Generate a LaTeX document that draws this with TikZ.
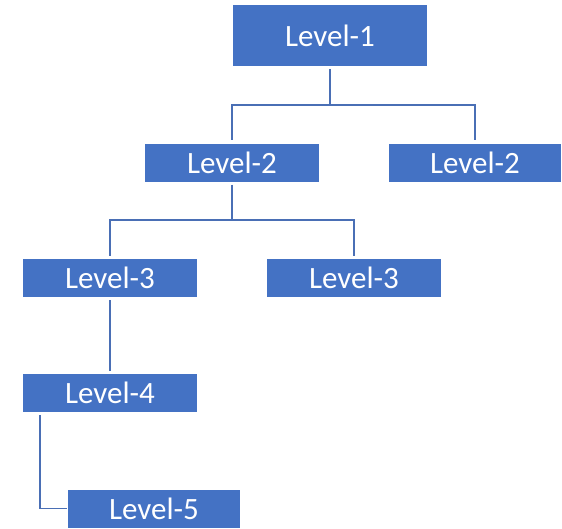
\documentclass[tikz,border=0pt]{standalone}
\usepackage{fontspec}
\setmainfont{Carlito}
\definecolor{boxblue}{HTML}{4472C4}
\definecolor{lineblue}{HTML}{4A6FB5}
\begin{document}
\begin{tikzpicture}[x=1pt, y=-1pt]
    % Stili
    \tikzset{
        lvl/.style={rectangle, fill=boxblue, text=white, inner sep=0pt,
                    minimum width=174pt, minimum height=38pt,
                    font=\fontsize{31}{36}\selectfont},
        link/.style={draw=lineblue, line width=1.8pt,
                    shorten <=3pt, shorten >=3pt}
    }
    \useasboundingbox (0,0) rectangle (562,528);

    % Livello 1
    \node[lvl, minimum width=194pt, minimum height=61pt] (l1) at (330,35.5) {Level-1};

    % Livello 2
    \node[lvl] (l2a) at (232,162.5) {Level-2};
    \node[lvl, minimum width=172pt] (l2b) at (475,162.5) {Level-2};

    % Livello 3
    \node[lvl] (l3a) at (110,278) {Level-3};
    \node[lvl] (l3b) at (354,278) {Level-3};

    % Livelli 4 e 5
    \node[lvl] (l4) at (110,393) {Level-4};
    \node[lvl, minimum width=172pt] (l5) at (154,508.5) {Level-5};

    % Punti di diramazione
    \coordinate (j1) at (330,105);
    \coordinate (j2) at (232,220);
    \coordinate (t4) at (40,412);

    % Connessioni
    \draw[link, shorten >=0pt] (l1.south) -- (j1);
    \draw[link, shorten <=0pt] (j1) -| (l2a.north);
    \draw[link, shorten <=0pt] (j1) -| (l2b.north);
    \draw[link, shorten >=0pt] (l2a.south) -- (j2);
    \draw[link, shorten <=0pt] (j2) -| (l3a.north);
    \draw[link, shorten <=0pt] (j2) -| (l3b.north);
    \draw[link] (l3a.south) -- (l4.north);
    \draw[link, shorten >=1pt] (t4) |- (l5.west);
\end{tikzpicture}
\end{document}
